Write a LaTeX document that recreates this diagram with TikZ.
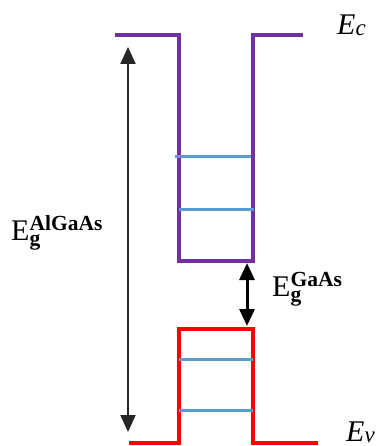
\documentclass[tikz,border=0pt]{standalone}
\usepackage{fontspec}
\setmainfont{Liberation Serif}
\usetikzlibrary{arrows.meta}
\definecolor{cband}{HTML}{7030A0}
\definecolor{vband}{HTML}{FF0000}
\definecolor{level}{HTML}{5B9BD5}
\definecolor{gaparrow}{HTML}{262626}
\newcommand{\bigsz}{\fontsize{30}{32}\selectfont}
\newcommand{\smallsz}{\fontsize{21.5}{23}\selectfont}
% E with a bold subscript g and a bold superscript material name
\newcommand{\gaplabel}[1]{{\bigsz E}\rlap{\raisebox{-5pt}{\smallsz\bfseries g}}\raisebox{10pt}{\smallsz\bfseries #1}}
\newcommand{\edgelabel}[1]{{\bigsz\itshape E}\raisebox{-1pt}{\fontsize{23}{25}\selectfont\itshape #1}}
\tikzset{
  band/.style={line width=3.2pt, line join=miter},
  lvl/.style={level, line width=3pt},
  gap/.style={line width=#1, {Triangle[width=15pt,length=17pt]}-{Triangle[width=15pt,length=17pt]}},
  lbl/.style={inner sep=0pt, anchor=base west},
}
\begin{document}
\begin{tikzpicture}[x=1pt,y=-1pt]
\useasboundingbox (0,0) rectangle (377,446);
% conduction band edge with quantum well
\draw[band, cband] (115,35) -- (179,35) -- (179,261) -- (253,261) -- (253,35) -- (303,35);
% valence band edge with quantum well
\draw[band, vband] (129,443) -- (179,443) -- (179,329) -- (253,329) -- (253,443) -- (318,443);
% confined levels
\draw[lvl] (175,157) -- (251,157);
\draw[lvl] (179,209) -- (254,209);
\draw[lvl] (179,359) -- (253,359);
\draw[lvl] (179,410) -- (253,410);
% gap arrows
\coordinate (bigtop) at (128,47);
\coordinate (bigbot) at (128,432);
\coordinate (smtop) at (247,263);
\coordinate (smbot) at (247,326);
\draw[gap=2pt, gaparrow] (bigtop) -- (bigbot);
\draw[gap=3pt, black] (smtop) -- (smbot);
% labels
\node[lbl] (ec) at (337,35) {\edgelabel{c}};
\node[lbl] (ev) at (346,441) {\edgelabel{v}};
\node[lbl] (egal) at (11,240) {\gaplabel{AlGaAs}};
\node[lbl] (egga) at (272,296) {\gaplabel{GaAs}};
\end{tikzpicture}
\end{document}
